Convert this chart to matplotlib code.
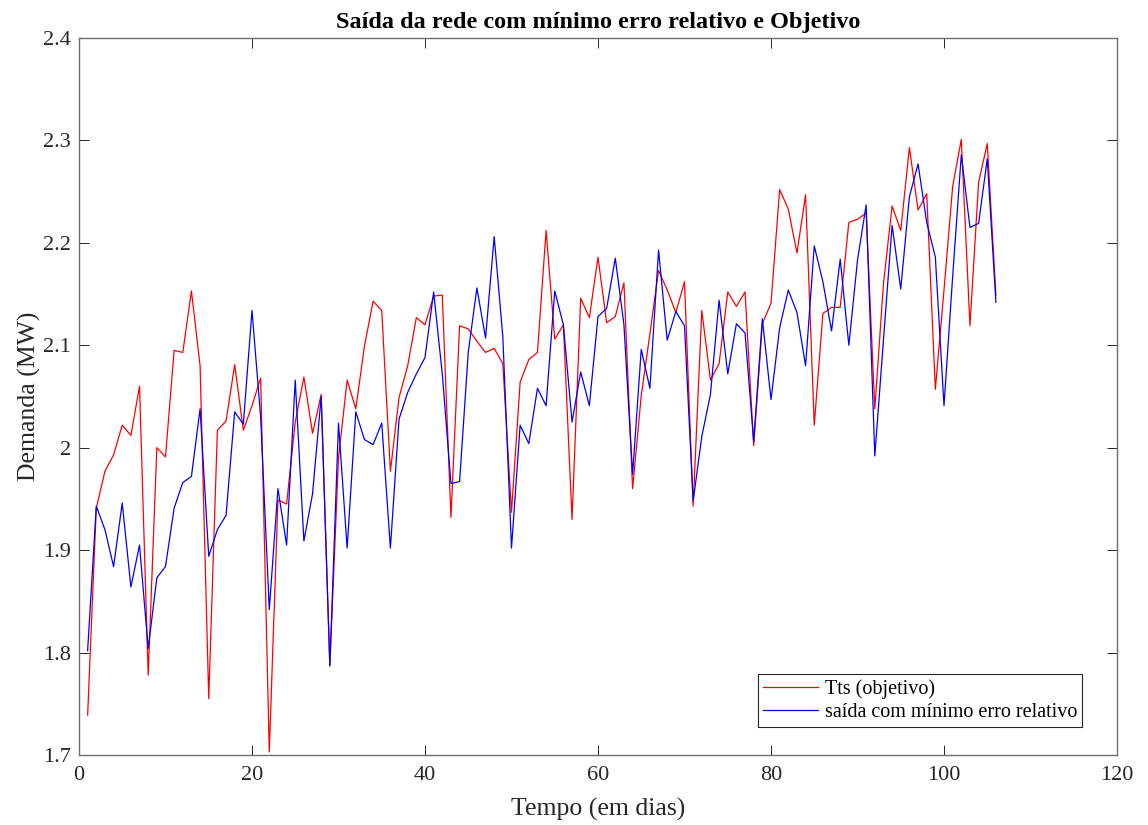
import numpy as np
import matplotlib.pyplot as plt

# Tempo (dias) 1..106
dias = np.arange(1, 107)

# Tts (objetivo)
tts = [1.739, 1.941, 1.977, 1.993, 2.022, 2.012, 2.060, 1.778, 2.000, 1.991,
       2.095, 2.093, 2.153, 2.080, 1.755, 2.017, 2.026, 2.081, 2.017, 2.041,
       2.068, 1.703, 1.949, 1.945, 2.025, 2.069, 2.014, 2.052, 1.787, 1.990,
       2.066, 2.038, 2.099, 2.143, 2.134, 1.977, 2.049, 2.080, 2.127, 2.120,
       2.148, 2.149, 1.932, 2.119, 2.116, 2.104, 2.093, 2.097, 2.082, 1.937,
       2.064, 2.086, 2.093, 2.212, 2.106, 2.120, 1.930, 2.146, 2.127, 2.186,
       2.122, 2.128, 2.161, 1.960, 2.051, 2.111, 2.173, 2.154, 2.132, 2.162,
       1.943, 2.134, 2.066, 2.082, 2.152, 2.138, 2.152, 2.002, 2.121, 2.141,
       2.252, 2.233, 2.190, 2.247, 2.022, 2.131, 2.137, 2.137, 2.220, 2.223,
       2.229, 2.038, 2.160, 2.236, 2.212, 2.293, 2.232, 2.248, 2.057, 2.154,
       2.255, 2.301, 2.119, 2.259, 2.297, 2.149]

# saida da rede com minimo erro relativo
saida = [1.802, 1.943, 1.920, 1.884, 1.946, 1.864, 1.905, 1.804, 1.873, 1.884,
         1.941, 1.966, 1.972, 2.038, 1.894, 1.920, 1.934, 2.035, 2.023, 2.134,
         2.030, 1.842, 1.960, 1.905, 2.066, 1.909, 1.955, 2.050, 1.787, 2.024,
         1.902, 2.035, 2.008, 2.003, 2.024, 1.902, 2.028, 2.054, 2.072, 2.088,
         2.152, 2.072, 1.965, 1.967, 2.093, 2.156, 2.107, 2.206, 2.108, 1.902,
         2.022, 2.004, 2.058, 2.041, 2.153, 2.120, 2.025, 2.074, 2.041, 2.128,
         2.136, 2.185, 2.120, 1.974, 2.096, 2.058, 2.193, 2.105, 2.133, 2.119,
         1.948, 2.011, 2.052, 2.144, 2.072, 2.121, 2.112, 2.006, 2.126, 2.047,
         2.117, 2.154, 2.132, 2.080, 2.197, 2.162, 2.114, 2.184, 2.100, 2.183,
         2.237, 1.992, 2.105, 2.217, 2.155, 2.245, 2.277, 2.220, 2.186, 2.041,
         2.167, 2.286, 2.215, 2.219, 2.282, 2.142]

plt.rcParams['font.family'] = ['Liberation Serif', 'DejaVu Serif']

fig = plt.figure(figsize=(11.48, 8.25), dpi=100)
ax = fig.add_axes([0.0688, 0.0848, 0.9042, 0.8692])

ax.plot(dias, tts, color='red', lw=0.9, label='Tts (objetivo)')
ax.plot(dias, saida, color='blue', lw=0.9, label='saída com mínimo erro relativo')

ax.set_xlim(0, 120)
ax.set_ylim(1.7, 2.4)
ax.set_xticks(np.arange(0, 121, 20))
ax.set_yticks(np.arange(1.7, 2.41, 0.1))
ax.set_yticklabels(['1.7', '1.8', '1.9', '2', '2.1', '2.2', '2.3', '2.4'])

ax.tick_params(direction='in', top=True, right=True, length=7.5, width=0.7,
               labelsize=16, colors='#262626')
ax.tick_params(axis='x', pad=8)
ax.tick_params(axis='y', pad=6)
for s in ax.spines.values():
    s.set_color('#6e6e6e')
    s.set_linewidth(1.0)

ax.set_xlabel('Tempo (em dias)', fontsize=18.5, color='#262626', labelpad=9)
ax.set_ylabel('Demanda (MW)', fontsize=18.5, color='#262626', labelpad=1)
ax.set_title('Saída da rede com mínimo erro relativo e Objetivo',
             fontsize=17.5, fontweight='bold', pad=7)

leg = ax.legend(loc='lower right', bbox_to_anchor=(0.9665, 0.039), fontsize=14.5,
                frameon=True, fancybox=False, framealpha=1, edgecolor='#262626',
                handlelength=2.7, borderpad=0.25, labelspacing=0.2,
                handletextpad=0.35, borderaxespad=0)
leg.get_frame().set_linewidth(0.8)

fig.savefig('out.png', dpi=100)
